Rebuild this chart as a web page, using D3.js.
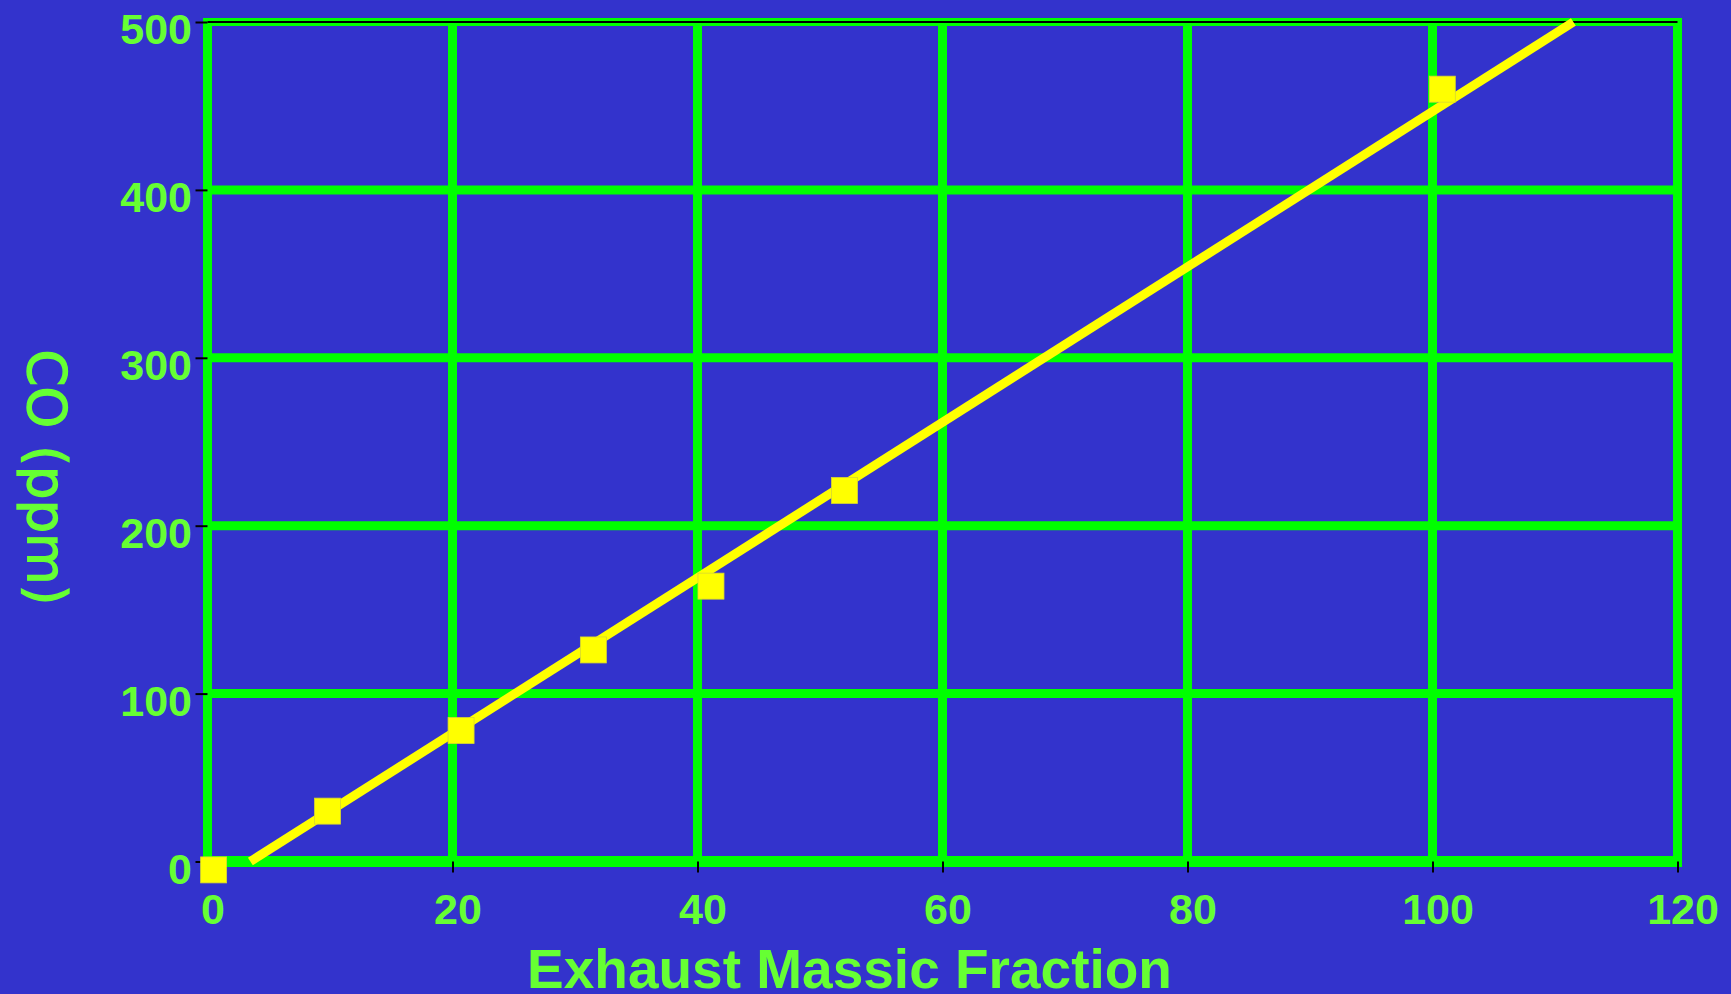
<!DOCTYPE html>
<html>
<head>
<meta charset="utf-8">
<script src="https://cdn.jsdelivr.net/npm/d3@7"></script>
<style>
  html, body { margin: 0; padding: 0; background: #3333CC; }
  svg { display: block; }
</style>
</head>
<body>
<svg id="chart" width="1731" height="994"></svg>
<script>
// ---- data ----
const xTicks = [0, 20, 40, 60, 80, 100, 120];
const yTicks = [0, 100, 200, 300, 400, 500];
const pointX = [0.5, 9.8, 20.7, 31.5, 41.1, 52.0, 100.8];
const pointY = [-5, 30, 78, 126, 164, 221, 460];
const fitX = [3.5, 111.5];
const fitY = [0, 500];
const xTitle = "Exhaust Massic Fraction";
const yTitle = "CO (ppm)";

// ---- layout ----
const W = 1731, H = 994;
const mLeft = 207.5, mRight = 1677.5, mTop = 22, mBottom = 861.5;
const gridColor = "#00FF00", textColor = "#66FF33", markColor = "#FFFF00";

const svg = d3.select("#chart");
svg.append("rect").attr("width", W).attr("height", H).attr("fill", "#3333CC");

const x = d3.scaleLinear().domain([0, 120]).range([mLeft, mRight]);
const y = d3.scaleLinear().domain([0, 500]).range([mBottom, mTop]);

// grid
const grid = svg.append("g");
grid.selectAll(".vg").data(xTicks).join("line")
  .attr("x1", d => x(d)).attr("x2", d => x(d))
  .attr("y1", y(500)).attr("y2", y(0))
  .attr("stroke", gridColor).attr("stroke-width", 9);
grid.selectAll(".hg").data(yTicks).join("line")
  .attr("x1", x(0) - 4.5).attr("x2", x(120) + 4.5)
  .attr("y1", d => y(d)).attr("y2", d => y(d))
  .attr("stroke", gridColor)
  .attr("stroke-width", d => d === 0 ? 11 : (d === 500 ? 8 : 9));
// thin black line along top
grid.append("line")
  .attr("x1", x(0)).attr("x2", x(120))
  .attr("y1", y(500)).attr("y2", y(500))
  .attr("stroke", "#000").attr("stroke-width", 2);

// axes
const yAxis = svg.append("g")
  .attr("transform", `translate(${mLeft},0)`)
  .call(d3.axisLeft(y).tickValues(yTicks).tickSize(12).tickPadding(3.5).tickFormat(d3.format("d")));
yAxis.select(".domain").remove();
yAxis.selectAll(".tick line").attr("stroke", "#000").attr("stroke-width", 2);
yAxis.selectAll(".tick text")
  .attr("fill", textColor)
  .attr("font-family", "'Liberation Sans', Arial, sans-serif")
  .attr("font-weight", "bold")
  .attr("font-size", 43)
  .attr("dy", "0.5em");

const xAxis = svg.append("g")
  .attr("transform", `translate(0,${mBottom})`)
  .call(d3.axisBottom(x).tickValues(xTicks).tickSize(11).tickPadding(21).tickFormat(d3.format("d")));
xAxis.select(".domain").remove();
xAxis.selectAll(".tick line").attr("stroke", "#000").attr("stroke-width", 2);
xAxis.selectAll(".tick text")
  .attr("fill", textColor)
  .attr("font-family", "'Liberation Sans', Arial, sans-serif")
  .attr("font-weight", "bold")
  .attr("font-size", 43)
  .attr("dx", 5);

// fit line
const fit = fitX.map((v, i) => [v, fitY[i]]);
svg.append("path")
  .datum(fit)
  .attr("d", d3.line().x(d => x(d[0])).y(d => y(d[1])))
  .attr("fill", "none")
  .attr("stroke", markColor)
  .attr("stroke-width", 9)
  .attr("stroke-linecap", "butt");

// points
const pts = pointX.map((v, i) => [v, pointY[i]]);
const sz = 26;
svg.append("g").selectAll("rect").data(pts).join("rect")
  .attr("x", d => x(d[0]) - sz / 2)
  .attr("y", d => y(d[1]) - sz / 2)
  .attr("width", sz).attr("height", sz)
  .attr("fill", markColor)
  .attr("stroke", "#D8D830").attr("stroke-width", 0.8);

// titles
svg.append("text")
  .attr("x", 849.5).attr("y", 988)
  .attr("text-anchor", "middle")
  .attr("fill", textColor)
  .attr("font-family", "'Liberation Sans', Arial, sans-serif")
  .attr("font-weight", "bold")
  .attr("font-size", 55)
  .text(xTitle);

svg.append("text")
  .attr("transform", "translate(28,477.5) rotate(90)")
  .attr("text-anchor", "middle")
  .attr("fill", textColor)
  .attr("stroke", textColor)
  .attr("stroke-width", 1.3)
  .attr("font-family", "'DejaVu Sans', Verdana, sans-serif")
  .attr("font-size", 53)
  .text(yTitle);
</script>
</body>
</html>
